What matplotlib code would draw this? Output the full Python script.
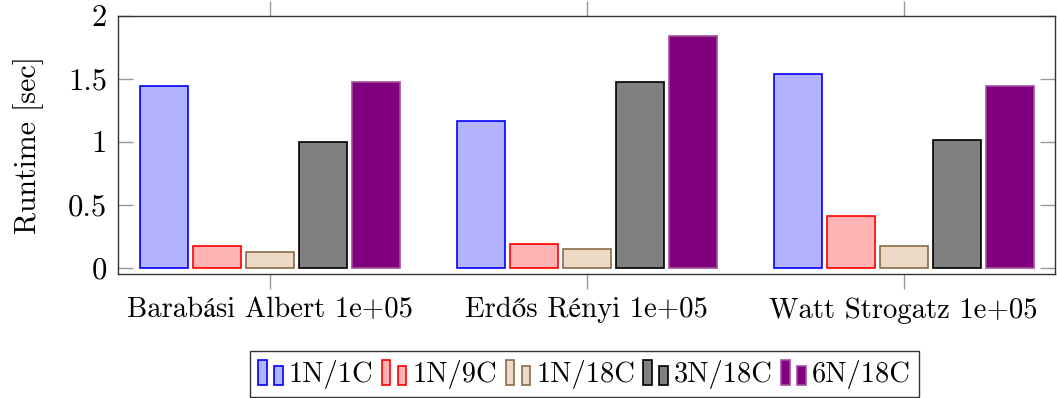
import matplotlib
matplotlib.use("Agg")
import matplotlib.pyplot as plt
import numpy as np
from matplotlib.legend_handler import HandlerBase
from matplotlib.patches import Rectangle
from matplotlib.ticker import FuncFormatter

plt.rcParams['font.family'] = ['cmr10', 'STIXGeneral']
plt.rcParams['axes.formatter.use_mathtext'] = True
plt.rcParams['font.size'] = 21

groups = ['Barabási Albert 1e+05', 'Erdős Rényi 1e+05', 'Watt Strogatz 1e+05']
configs = ['1N/1C', '1N/9C', '1N/18C', '3N/18C', '6N/18C']
runtime = {
    '1N/1C':  [1.44, 1.16, 1.54],
    '1N/9C':  [0.175, 0.19, 0.413],
    '1N/18C': [0.127, 0.148, 0.175],
    '3N/18C': [1.0, 1.47, 1.015],
    '6N/18C': [1.47, 1.84, 1.445],
}

fills = ['#b3b3ff', '#ffb3b3', '#ecd9c6', '#808080', '#800080']
edges = ['#0000ff', '#ff0000', '#8b6b4a', '#000000', '#a050a0']


class TwoBars(HandlerBase):
    # pgfplots-style legend image: two small bars of different height
    def create_artists(self, legend, orig, xd, yd, w, h, fontsize, trans):
        fc = orig.get_facecolor()
        ec = orig.get_edgecolor()
        bw = w * 0.34
        y0 = yd - 0.15 * h
        r1 = Rectangle((xd, y0), bw, 1.25 * h, facecolor=fc,
                       edgecolor=ec, lw=1.2, transform=trans)
        r2 = Rectangle((xd + w - bw, y0), bw, 0.95 * h, facecolor=fc,
                       edgecolor=ec, lw=1.2, transform=trans)
        return [r1, r2]


fig = plt.figure(figsize=(10.57, 3.98), dpi=100)
ax = fig.add_axes([0.1116, 0.3128, 0.8862, 0.6482])

x = np.arange(len(groups))
step = 0.167
width = 0.151
handles = []
for i, c in enumerate(configs):
    b = ax.bar(x + (i - 2) * step, runtime[c], width, color=fills[i],
               edgecolor=edges[i], linewidth=1.2, label=c)
    handles.append(b[0])

ax.set_xlim(-0.479, 2.476)
ax.set_ylim(-0.046, 2.0)
ax.set_xticks(x)
ax.set_xticklabels(groups, fontsize=20.7)
ax.set_yticks([0, 0.5, 1, 1.5, 2])
ax.yaxis.set_major_formatter(FuncFormatter(lambda v, p: '%g' % v))
ax.tick_params(axis='x', direction='out', length=11, width=1, color='#999999',
               top=True, pad=6)
ax.tick_params(axis='y', direction='in', length=11, width=1, color='#999999',
               right=True, pad=8, labelsize=22)
for s in ax.spines.values():
    s.set_color('#333333')
    s.set_linewidth(1.0)
ax.set_ylabel('Runtime [sec]', fontsize=21.5, labelpad=17)

fig.legend(handles, configs, handler_map={h: TwoBars() for h in handles},
           loc='upper center', bbox_to_anchor=(0.553, 0.118), ncol=5,
           frameon=True, fancybox=False, edgecolor='#333333', framealpha=1,
           fontsize=20.5, handlelength=0.85, handletextpad=0.22,
           columnspacing=0.3, borderpad=0.3, borderaxespad=0)

fig.savefig('out.png', dpi=100)
